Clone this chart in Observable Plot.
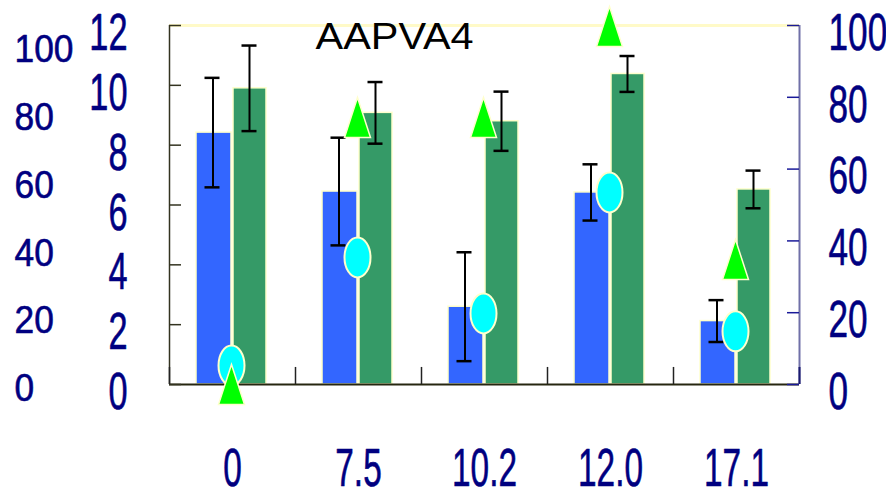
<!DOCTYPE html>
<html><head><meta charset="utf-8">
<script src="https://cdn.jsdelivr.net/npm/d3@7"></script>
<script src="https://cdn.jsdelivr.net/npm/@observablehq/plot@0.6"></script>
<style>html,body{margin:0;padding:0;background:#fff;} svg{display:block;}</style>
</head><body><div id="chart"></div>
<script>
const categories = ["0", "7.5", "10.2", "12.0", "17.1"];
const blueValues = [8.42, 6.45, 2.6, 6.42, 2.12];
const blueSd = [1.83, 1.8, 1.82, 0.94, 0.7];
const greenValues = [9.9, 9.08, 8.8, 10.38, 6.52];
const greenSd = [1.43, 1.03, 0.99, 0.6, 0.63];
const circlePct = [5.3, 35.4, 19.8, 53.5, 14.8];
const trianglePct = [0, 74.4, 74.4, 99.7, 34.8];
const leftTicks = [0, 2, 4, 6, 8, 10, 12];
const pctTicks = [0, 20, 40, 60, 80, 100];
const outerTicks = [0, 20, 40, 60, 80, 100];
const title = "AAPVA4";

const rows = categories.map((c, i) => ({
  cat: c, blue: blueValues[i], blueSd: blueSd[i], green: greenValues[i], greenSd: greenSd[i],
  circle: circlePct[i], tri: trianglePct[i]
}));
const pct = p => p * 12 / 100;
const outerY = v => (v * 3.39 - 3.5) / (359 / 12);

const ellipseSym = {draw(ctx) {
  const rx = 13, ry = 20, k = 0.5523;
  ctx.moveTo(rx, 0);
  ctx.bezierCurveTo(rx, ry * k, rx * k, ry, 0, ry);
  ctx.bezierCurveTo(-rx * k, ry, -rx, ry * k, -rx, 0);
  ctx.bezierCurveTo(-rx, -ry * k, -rx * k, -ry, 0, -ry);
  ctx.bezierCurveTo(rx * k, -ry, rx, -ry * k, rx, 0);
  ctx.closePath();
}};
const triSym = {draw(ctx) {
  ctx.moveTo(0, -20); ctx.lineTo(13, 20); ctx.lineTo(-13, 20); ctx.closePath();
}};

const navy = "#000080";
const font = "Liberation Sans";
const last = categories[categories.length - 1];
const labelStyle = {fill: navy, stroke: navy, strokeWidth: 0.6, fontFamily: font};

const svg = Plot.plot({
  width: 886, height: 489,
  marginLeft: 169, marginRight: 87, marginTop: 25, marginBottom: 105,
  style: {fontFamily: font, background: "#fff", overflow: "visible"},
  x: {type: "band", domain: categories, padding: 0, axis: null},
  y: {domain: [0, 12], axis: null},
  marks: [
    Plot.ruleY([12], {stroke: "#fffac8", strokeWidth: 3}),
    Plot.barY(rows, {x: "cat", y: "blue", fill: "#3366ff", stroke: "#ffffcc", strokeWidth: 1.5, insetLeft: 27, insetRight: 64}),
    Plot.barY(rows, {x: "cat", y: "green", fill: "#359a67", stroke: "#ffffcc", strokeWidth: 1.5, insetLeft: 64, insetRight: 29}),
    Plot.ruleX(rows, {x: "cat", y1: d => d.blue - d.blueSd, y2: d => d.blue + d.blueSd, dx: -19.5, stroke: "#000", strokeWidth: 2}),
    Plot.tickY(rows, {x: "cat", y: d => d.blue + d.blueSd, insetLeft: 35.5, insetRight: 75.5, stroke: "#000", strokeWidth: 2.5}),
    Plot.tickY(rows, {x: "cat", y: d => d.blue - d.blueSd, insetLeft: 35.5, insetRight: 75.5, stroke: "#000", strokeWidth: 2.5}),
    Plot.ruleX(rows, {x: "cat", y1: d => d.green - d.greenSd, y2: d => d.green + d.greenSd, dx: 17, stroke: "#000", strokeWidth: 2}),
    Plot.tickY(rows, {x: "cat", y: d => d.green + d.greenSd, insetLeft: 72.5, insetRight: 38.5, stroke: "#000", strokeWidth: 2.5}),
    Plot.tickY(rows, {x: "cat", y: d => d.green - d.greenSd, insetLeft: 72.5, insetRight: 38.5, stroke: "#000", strokeWidth: 2.5}),
    // frame parts
    Plot.ruleY([0], {stroke: "#262610", strokeWidth: 2}),
    Plot.ruleX([categories[0]], {x: d => d, dx: -63, y1: 0, y2: 12, stroke: "#333320", strokeWidth: 1.5}),
    Plot.ruleX([last], {x: d => d, dx: 63, y1: 0, y2: 12, stroke: "#7070a8", strokeWidth: 2}),
    Plot.ruleX(categories, {x: d => d, dx: -63, y1: 0, y2: 0.57, stroke: "#222", strokeWidth: 1.5}),
    Plot.ruleX([last], {x: d => d, dx: 63, y1: 0, y2: 0.57, stroke: "#1a1a70", strokeWidth: 2}),
    Plot.tickY(leftTicks, {y: d => d, x: () => categories[0], insetRight: 114, stroke: "#333320", strokeWidth: 1.5}),
    Plot.tickY(pctTicks, {y: d => pct(d), x: () => last, insetLeft: 114, stroke: "#1a1a99", strokeWidth: 1.5}),
    // markers
    Plot.dot(rows, {x: "cat", y: d => pct(d.circle), symbol: ellipseSym, fill: "#00ffff", stroke: "#ffffcc", strokeWidth: 2, dx: -1}),
    Plot.dot(rows, {x: "cat", y: d => pct(d.tri), symbol: triSym, fill: "#00ff00", stroke: "#ffffcc", strokeWidth: 1.5, dx: -1}),
    // texts
    Plot.text([title], {text: d => d, frameAnchor: "top-left", textAnchor: "start", lineAnchor: "top", dx: 146, dy: -3, fontSize: 37, fill: "#000", fontFamily: font}),
    Plot.text(leftTicks, {y: d => d, text: d => String(d), frameAnchor: "left", textAnchor: "end", dx: -42, dy: 8, fontSize: 52, ...labelStyle}),
    Plot.text(outerTicks, {y: d => outerY(d), text: d => String(d), frameAnchor: "left", textAnchor: "start", dx: -155, dy: 1, fontSize: 38, ...labelStyle}),
    Plot.text(pctTicks, {y: d => pct(d), text: d => String(d), frameAnchor: "right", textAnchor: "start", dx: 29, dy: 8, fontSize: 51, ...labelStyle}),
    Plot.text(categories, {x: d => d, text: d => d, frameAnchor: "bottom", textAnchor: "middle", lineAnchor: "top", dy: 64, fontSize: 53, ...labelStyle})
  ]
});

const scaleFor = {"52": 0.66, "51": 0.69, "53": 0.63, "38": 0.93, "37": 1.12};
svg.querySelectorAll("g[aria-label='text']").forEach(g => {
  const fs = g.getAttribute("font-size");
  const s = scaleFor[fs];
  if (!s) return;
  g.querySelectorAll("text").forEach(t => {
    const tr = t.getAttribute("transform");
    if (tr && tr.includes("translate")) {
      t.setAttribute("transform", tr + ` scale(${s},1)`);
    } else {
      const x = +(t.getAttribute("x") || 0), y = +(t.getAttribute("y") || 0);
      t.setAttribute("transform", `translate(${x},${y}) scale(${s},1) translate(${-x},${-y})`);
    }
  });
});
document.getElementById("chart").appendChild(svg);
</script>
</body></html>
